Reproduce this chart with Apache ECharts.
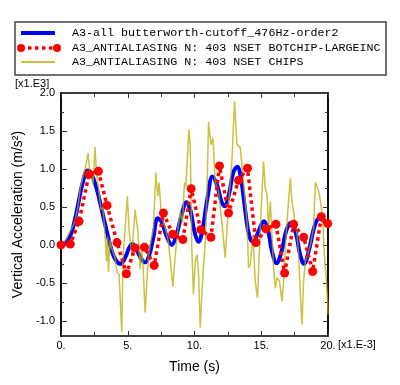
<!DOCTYPE html>
<html>
<head>
<meta charset="utf-8">
<script src="https://cdn.jsdelivr.net/npm/echarts@6/dist/echarts.min.js"></script>
<style>html,body{margin:0;padding:0;background:#fff}#c{width:400px;height:385px}</style>
</head>
<body>
<div id="c"></div>
<script>
// ---- data (time in ms, acceleration in x1000 m/s^2) ----
const seriesNames = [
  'A3-all butterworth-cutoff_476Hz-order2',
  'A3_ANTIALIASING N: 403 NSET BOTCHIP-LARGEINC',
  'A3_ANTIALIASING N: 403 NSET CHIPS'
];
const blueT = [0,0.3,0.7,1.0,1.3,1.6,2.0,2.3,2.7,3.0,3.4,3.8,4.1,4.45,4.8,5.1,5.35,5.65,6.0,6.3,6.6,6.9,7.25,7.55,7.9,8.3,8.6,9.0,9.4,9.7,10.0,10.3,10.6,11.0,11.35,11.7,12.0,12.25,12.6,12.9,13.2,13.5,13.8,14.1,14.4,14.8,15.2,15.5,15.8,16.15,16.5,16.9,17.25,17.6,17.9,18.2,18.6,19.0,19.35,19.7,20.0];
const blueV = [0,0.02,0.12,0.3,0.55,0.8,0.98,0.93,0.72,0.5,0.2,-0.08,-0.2,-0.25,-0.17,-0.04,0.01,-0.06,-0.18,-0.23,-0.14,0.08,0.35,0.3,0.12,0.0,0.1,0.37,0.56,0.45,0.17,0.04,0.2,0.65,0.9,0.78,0.58,0.51,0.68,0.95,1.03,0.85,0.45,0.12,0.04,0.18,0.31,0.2,-0.08,-0.24,-0.1,0.2,0.29,0.15,-0.12,-0.25,-0.05,0.25,0.35,0.31,0.28];

const redT = [0,0.7,1.35,2.1,2.8,3.45,4.2,4.9,5.55,6.25,6.98,7.67,8.37,9.13,9.75,10.47,11.23,11.87,12.55,13.3,13.97,14.6,15.36,16.1,16.75,17.43,18.18,18.85,19.5,19.98];
const redV = [0,0.01,0.31,0.93,0.97,0.52,0.03,-0.38,-0.04,-0.03,-0.27,0.42,0.14,0.07,0.74,0.20,0.10,1.04,0.42,0.85,1.01,0.03,0.21,0.27,-0.37,0.27,0.10,-0.35,0.37,0.28];

const yellowT = [0,0.23,0.45,0.68,0.90,1.05,1.28,1.43,1.58,1.73,1.88,2.03,2.18,2.29,2.40,2.55,2.66,2.78,2.89,3.00,3.11,3.23,3.30,3.41,3.49,3.55,3.68,3.79,3.90,4.05,4.20,4.35,4.55,4.65,4.80,4.97,5.10,5.30,5.44,5.55,5.75,5.93,6.05,6.17,6.30,6.43,6.55,6.75,6.92,7.10,7.25,7.35,7.50,7.67,7.85,8.05,8.25,8.38,8.55,8.75,8.93,9.10,9.25,9.35,9.50,9.58,9.68,9.80,9.92,10.05,10.18,10.30,10.43,10.55,10.67,10.80,10.93,11.05,11.23,11.38,11.55,11.80,12.05,12.30,12.55,12.80,13.00,13.18,13.43,13.67,13.93,14.05,14.18,14.38,14.55,14.72,14.93,15.17,15.30,15.43,15.55,15.68,15.80,15.92,16.05,16.18,16.37,16.55,16.67,16.80,16.93,17.18,17.30,17.42,17.55,17.68,17.80,17.93,18.05,18.17,18.30,18.47,18.68,18.92,19.05,19.30,19.48,19.63,19.73,19.88,19.97,20.0];
const yellowV = [0.00,0.03,0.10,0.18,0.25,0.32,0.52,0.73,0.85,0.96,1.06,1.21,0.92,0.96,0.79,1.29,0.92,0.79,0.62,0.46,0.50,0.31,0.13,-0.22,0.11,-0.36,0.07,-0.04,-0.06,-0.17,-0.36,-0.39,-1.15,-0.15,0.20,0.64,0.20,-0.15,0.20,0.46,0.20,-0.32,-0.02,-0.36,-0.89,-0.50,-0.15,0.07,0.20,0.95,0.64,0.82,0.43,0.29,0.20,0.03,-0.32,-0.55,-0.15,0.20,0.43,0.29,0.82,0.77,1.25,1.52,1.32,-0.06,-0.65,-0.22,-0.13,-0.35,-1.09,-0.65,-0.30,0.04,0.66,1.62,1.32,1.41,0.83,0.70,0.31,-0.17,0.53,1.10,1.89,1.32,1.28,0.83,0.31,-0.30,-0.26,0.14,-0.48,-0.70,0.22,1.10,0.75,0.66,0.22,0.57,0.14,-0.30,-0.57,-0.43,-0.48,-0.74,-0.48,-0.04,0.31,0.88,0.57,0.44,0.27,0.14,-0.13,-0.65,-1.05,-0.48,-0.22,-0.13,0.00,0.22,0.82,0.71,0.53,0.22,-0.13,-0.48,-0.74,-0.92];

const xTicks = [0,5,10,15,20];
const yMajor = [-1.0,-0.5,0.0,0.5,1.0,1.5,2.0];
const yMinor = [-0.75,-0.25,0.25,0.75,1.25,1.75];

const zip = (a,b) => a.map((t,i) => [t,b[i]]);

const chart = echarts.init(document.getElementById('c'), null, {renderer:'canvas'});
const axisCol = '#000';
const yellowCol = '#b8ae00';
const lbl = {fontFamily:'Liberation Sans', fontSize:11, color:'#000'};
const monoFont = '11.7px "Liberation Mono"';

const yBase = {type:'value', min:-1.2, max:2.0, splitLine:{show:false}, axisLabel:{show:false},
  axisLine:{show:true, onZero:false, lineStyle:{color:axisCol, width:1.5}}};

chart.setOption({
  animation:false,
  backgroundColor:'#fff',
  grid:{left:61, right:72, top:93, bottom:49, containLabel:false},
  xAxis:[
    {type:'value', min:0, max:20, interval:5, position:'bottom',
     axisLine:{onZero:false, lineStyle:{color:axisCol, width:1.5}},
     axisTick:{inside:true, length:5, lineStyle:{color:'#333'}},
     minorTick:{show:true, splitNumber:2, length:4, lineStyle:{color:'#333'}},
     splitLine:{show:false},
     axisLabel:Object.assign({margin:4, formatter:v=>v+'.'}, lbl),
     name:'Time (s)', nameLocation:'middle', nameGap:24,
     nameTextStyle:{fontFamily:'Liberation Sans', fontSize:14, color:'#000'}},
    {type:'value', min:0, max:20, interval:5, position:'top',
     axisLine:{onZero:false, lineStyle:{color:axisCol, width:1.5}},
     axisTick:{inside:true, length:5, lineStyle:{color:'#333'}},
     minorTick:{show:true, splitNumber:2, length:4, lineStyle:{color:'#333'}},
     splitLine:{show:false}, axisLabel:{show:false}}
  ],
  yAxis:[
    Object.assign({}, yBase, {position:'left',
      axisTick:{inside:true, length:6, customValues:yMajor, lineStyle:{color:'#333'}},
      axisLabel:Object.assign({show:true, margin:6, customValues:yMajor, formatter:v=>v.toFixed(1)}, lbl),
      name:'Vertical Acceleration (m/s²)', nameLocation:'middle', nameGap:34,
      nameTextStyle:{fontFamily:'Liberation Sans', fontSize:14, color:'#000'}}),
    Object.assign({}, yBase, {position:'left',
      axisTick:{inside:true, length:3, customValues:yMinor, lineStyle:{color:'#333'}}}),
    Object.assign({}, yBase, {position:'right',
      axisTick:{inside:true, length:5, customValues:yMajor, lineStyle:{color:'#333'}}}),
    Object.assign({}, yBase, {position:'right',
      axisTick:{inside:true, length:3, customValues:yMinor, lineStyle:{color:'#333'}}})
  ],
  series:[
    {name:seriesNames[0], type:'line', data:zip(blueT,blueV), smooth:0.4, showSymbol:false, symbol:'none',
     lineStyle:{color:'#0000ff', width:4}, z:1},
    {name:seriesNames[2], type:'line', data:zip(yellowT,yellowV), showSymbol:false, symbol:'none',
     lineStyle:{color:yellowCol, width:1.5, opacity:0.75}, z:2},
    {name:seriesNames[1], type:'line', data:zip(redT,redV), symbol:'circle', symbolSize:9, showSymbol:true,
     itemStyle:{color:'#ff0000'}, lineStyle:{color:'#ff0000', width:3.5, type:[3.5,3.5]}, z:3}
  ],
  graphic:[
    {type:'rect', shape:{x:15, y:22, width:371, height:53}, style:{fill:'#fff', stroke:'#444', lineWidth:1.5}, z:10},
    {type:'line', shape:{x1:21, y1:33, x2:55, y2:33}, style:{stroke:'#0000ff', lineWidth:4}, z:11},
    {type:'line', shape:{x1:21, y1:48, x2:56, y2:48}, style:{stroke:'#ff0000', lineWidth:3.5, lineDash:[3.5,3.5]}, z:11},
    {type:'circle', shape:{cx:21, cy:48, r:4}, style:{fill:'#ff0000'}, z:12},
    {type:'circle', shape:{cx:57, cy:48, r:4}, style:{fill:'#ff0000'}, z:12},
    {type:'line', shape:{x1:21, y1:62, x2:55, y2:62}, style:{stroke:yellowCol, lineWidth:1.5}, z:11},
    {type:'text', x:72, y:33, style:{text:seriesNames[0], font:monoFont, fill:'#000', verticalAlign:'middle'}, z:12},
    {type:'text', x:72, y:48, style:{text:seriesNames[1], font:monoFont, fill:'#000', verticalAlign:'middle'}, z:12},
    {type:'text', x:72, y:62, style:{text:seriesNames[2], font:monoFont, fill:'#000', verticalAlign:'middle'}, z:12},
    {type:'text', x:15, y:84, style:{text:'[x1.E3]', font:'11px "Liberation Sans"', fill:'#000', verticalAlign:'middle'}, z:12},
    {type:'text', x:338, y:345, style:{text:'[x1.E-3]', font:'11px "Liberation Sans"', fill:'#000', verticalAlign:'middle'}, z:12}
  ]
});
</script>
</body>
</html>
